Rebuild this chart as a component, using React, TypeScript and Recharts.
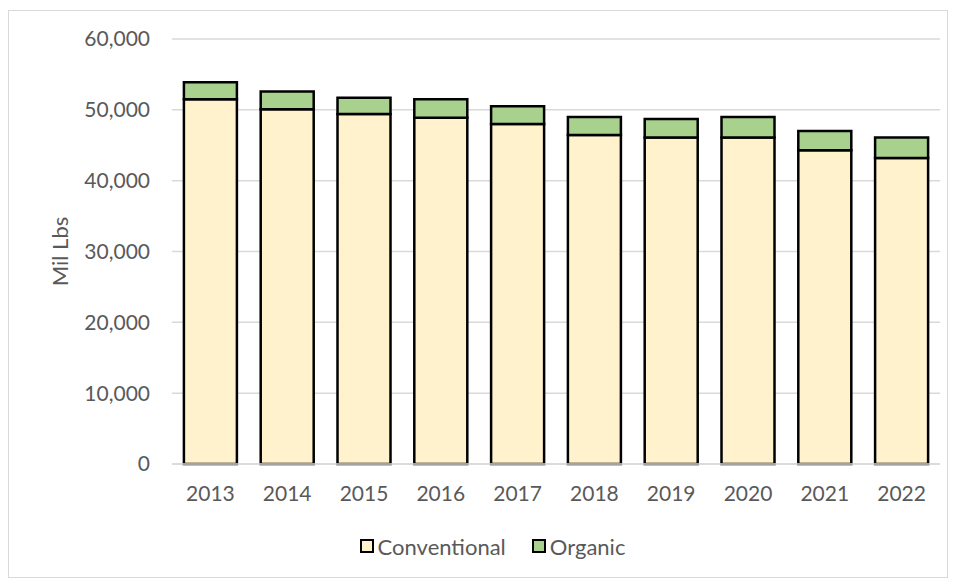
import React from 'react';
import { BarChart, Bar, XAxis, YAxis, CartesianGrid, Legend } from 'recharts';

const years = ['2013', '2014', '2015', '2016', '2017', '2018', '2019', '2020', '2021', '2022'];
const conventional = [51500, 50100, 49400, 48900, 48000, 46450, 46100, 46100, 44300, 43200];
const organic = [2400, 2500, 2300, 2600, 2500, 2550, 2600, 2900, 2700, 2900];
const yTicks = [0, 10000, 20000, 30000, 40000, 50000, 60000];

const data = years.map((y, i) => ({ year: y, Conventional: conventional[i], Organic: organic[i] }));

const FONT = 'Lato, "Liberation Sans", sans-serif';
const GRAY = '#595959';
const CONV = '#FFF2CC';
const ORG = '#A9D18E';

const fmt = (v: number) => v.toLocaleString('en-US');

const LegendContent = () => (
  <div style={{ display: 'flex', justifyContent: 'center', alignItems: 'center', fontFamily: FONT, fontSize: 22, color: GRAY, height: 30, paddingLeft: 36 }}>
    {[
      { name: 'Conventional', color: CONV },
      { name: 'Organic', color: ORG },
    ].map((it, i) => (
      <div key={it.name} style={{ display: 'flex', alignItems: 'center', marginLeft: i === 0 ? 0 : 26 }}>
        <span style={{ display: 'inline-block', width: 10, height: 10, background: it.color, border: '2px solid #000', marginRight: 4 }} />
        <span>{it.name}</span>
      </div>
    ))}
  </div>
);

const YLabel = (props: any) => {
  const vb = props.viewBox || {};
  const cx = 50;
  const cy = (vb.y || 0) + (vb.height || 0) / 2;
  return (
    <text x={cx} y={cy} transform={`rotate(-90, ${cx}, ${cy})`} textAnchor="middle" dominantBaseline="central" fill={GRAY} fontSize={22} fontFamily={FONT}>
      Mil Lbs
    </text>
  );
};

export default function App() {
  return (
    <div style={{ width: 940, height: 568, border: '1px solid #d9d9d9', marginTop: 2, boxSizing: 'border-box', background: '#fff' }}>
      <BarChart width={938} height={566} data={data} margin={{ top: 28, right: 7, left: 0, bottom: 16 }} barCategoryGap="15.5%">
        <CartesianGrid vertical={false} stroke="#d9d9d9" strokeWidth={1.5} />
        <XAxis dataKey="year" tickLine={false} axisLine={{ stroke: '#d9d9d9', strokeWidth: 1.5 }} tickSize={0} tickMargin={22} height={67}
          tick={{ fill: GRAY, fontSize: 21, fontFamily: FONT }} />
        <YAxis domain={[0, 60000]} ticks={yTicks} tickFormatter={fmt} axisLine={false} tickLine={false} tickSize={0} tickMargin={22} width={163}
          tick={{ fill: GRAY, fontSize: 21, fontFamily: FONT }} label={<YLabel />} />
        <Legend verticalAlign="bottom" content={<LegendContent />} />
        <Bar dataKey="Conventional" stackId="a" fill={CONV} stroke="#000" strokeWidth={2.5} isAnimationActive={false} />
        <Bar dataKey="Organic" stackId="a" fill={ORG} stroke="#000" strokeWidth={2.5} isAnimationActive={false} />
      </BarChart>
    </div>
  );
}
